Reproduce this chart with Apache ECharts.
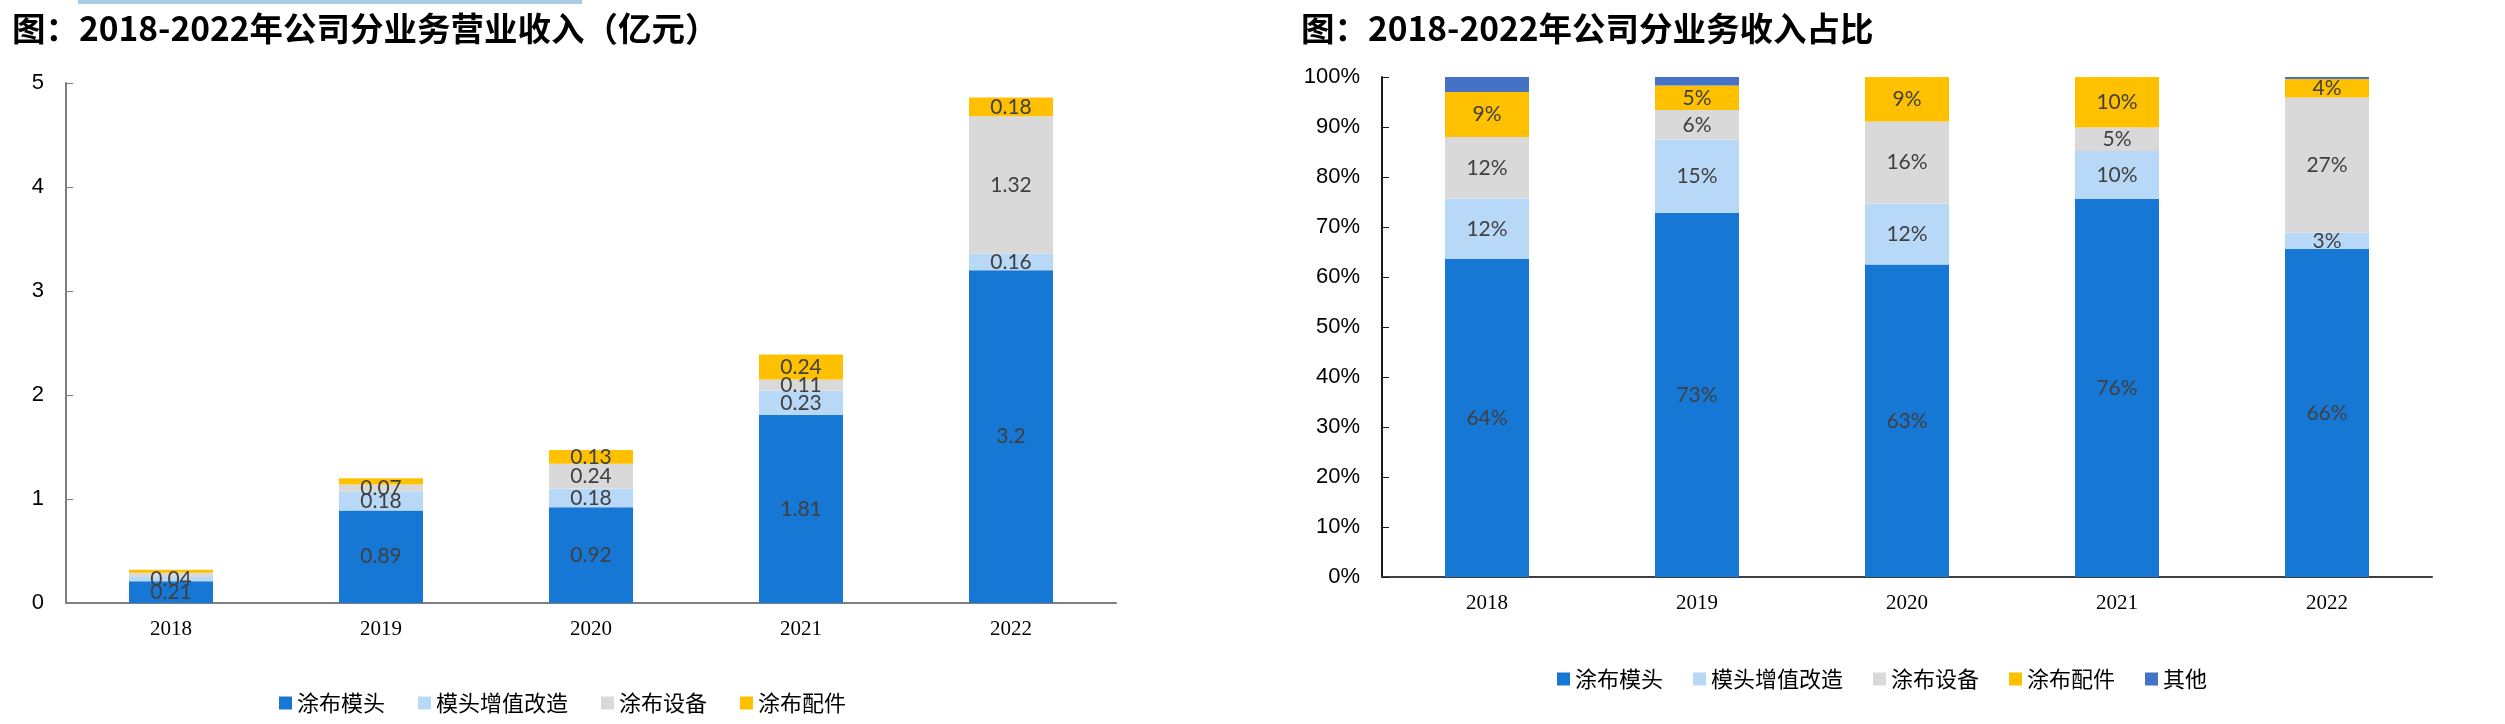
<!DOCTYPE html>
<html><head><meta charset="utf-8">
<script src="https://cdn.jsdelivr.net/npm/echarts@6/dist/echarts.min.js"></script>
<style>html,body{margin:0;padding:0;background:#fff}#c{width:2505px;height:724px}</style>
</head><body><div id="c"></div>
<script>
// ---------- data ----------
const years = ['2018', '2019', '2020', '2021', '2022'];
const names = ['涂布模头', '模头增值改造', '涂布设备', '涂布配件', '其他'];
// 分业务营业收入（亿元）
const revDie = [0.21, 0.89, 0.92, 1.81, 3.2];
const revUpgrade = [0.04, 0.18, 0.18, 0.23, 0.16];
const revEquip = [0.04, 0.07, 0.24, 0.11, 1.32];
const revParts = [0.03, 0.06, 0.13, 0.24, 0.18];
// 分业务收入占比（%）
const shareDie = [63.6, 72.8, 62.5, 75.6, 65.6];
const shareUpgrade = [12.1, 14.7, 12.2, 9.6, 3.3];
const shareEquip = [12.3, 5.9, 16.4, 4.7, 27.0];
const shareParts = [9.0, 4.9, 8.9, 10.1, 3.7];
const shareOther = [3.0, 1.7, 0, 0, 0.4];
// axis ticks
const revAxis = {min: 0, max: 5, step: 1};
const shareAxis = {min: 0, max: 100, step: 10};
// labels not shown in the reference (series name -> year index)
const revHidden = {'涂布设备': [0], '涂布配件': [0, 1]};

const colors = {'涂布模头': '#1677D4', '模头增值改造': '#B8D8F7', '涂布设备': '#D9D9D9', '涂布配件': '#FFC000', '其他': '#4472C4'};

const chart = echarts.init(document.getElementById('c'), null, {renderer: 'canvas'});

const labelFont = {fontFamily: 'Lato, "Liberation Sans", sans-serif', fontSize: 21, color: '#404040'};

function revSeries(name, vals) {
  const hid = revHidden[name] || [];
  return {
    name, type: 'bar', stack: 'rev', xAxisIndex: 0, yAxisIndex: 0, barWidth: '40%',
    itemStyle: {color: colors[name]},
    label: Object.assign({show: true, position: 'inside', formatter: p => String(p.value)}, labelFont),
    data: vals.map((v, i) => hid.includes(i) ? {value: v, label: {show: false}} : v)
  };
}
function shareSeries(name, vals, showLabel) {
  return {
    name, type: 'bar', stack: 'share', xAxisIndex: 1, yAxisIndex: 1, barWidth: '40%',
    itemStyle: {color: colors[name]},
    label: Object.assign({show: showLabel, position: 'inside', formatter: p => p.value > 0 ? Math.round(p.value) + '%' : ''}, labelFont),
    data: vals
  };
}

const xLabel = {fontFamily: '"Liberation Serif", "Times New Roman", serif', fontSize: 21, color: '#000', margin: 16};
const yLabel = {fontFamily: '"Liberation Sans", Arial, sans-serif', fontSize: 22, color: '#000', margin: 22};
const titleFont = {fontFamily: '"Noto Sans CJK SC", sans-serif', fontSize: 33.5, fontWeight: 'bold', color: '#000'};

const option = {
  backgroundColor: '#fff',
  animation: false,
  graphic: [
    {type: 'rect', shape: {x: 78, y: 0, width: 504, height: 4}, style: {fill: '#A9CBE6'}}
  ],
  title: [
    {text: '图：2018-2022年公司分业务营业收入（亿元）', left: 12, top: 12, padding: 0, textStyle: titleFont},
    {text: '图：2018-2022年公司分业务收入占比', left: 1301, top: 12, padding: 0, textStyle: titleFont}
  ],
  legend: [
    {data: names.slice(0, 4), left: 279, top: 692, icon: 'rect', itemWidth: 13, itemHeight: 13, itemGap: 33, padding: 0,
     textStyle: {fontFamily: '"Noto Sans CJK SC", sans-serif', fontSize: 22, color: '#000'}},
    {data: names, left: 1557, top: 668, icon: 'rect', itemWidth: 13, itemHeight: 13, itemGap: 30, padding: 0,
     textStyle: {fontFamily: '"Noto Sans CJK SC", sans-serif', fontSize: 22, color: '#000'}}
  ],
  grid: [
    {left: 66, top: 83, width: 1050, height: 520},
    {left: 1382, top: 77, width: 1050, height: 500}
  ],
  xAxis: [
    {type: 'category', gridIndex: 0, data: years,
     axisLine: {lineStyle: {color: '#7F7F7F', width: 2}},
     axisTick: {inside: true, length: 8, interval: 0, lineStyle: {color: '#000', width: 1}},
     axisLabel: xLabel},
    {type: 'category', gridIndex: 1, data: years,
     axisLine: {lineStyle: {color: '#404040', width: 2}},
     axisTick: {inside: true, length: 8, interval: 0, lineStyle: {color: '#404040', width: 1}},
     axisLabel: xLabel}
  ],
  yAxis: [
    {type: 'value', gridIndex: 0, min: revAxis.min, max: revAxis.max, interval: revAxis.step,
     splitLine: {show: false},
     axisLine: {show: true, lineStyle: {color: '#7F7F7F', width: 2}},
     axisTick: {show: true, inside: true, length: 7, lineStyle: {color: '#7F7F7F'}},
     axisLabel: yLabel},
    {type: 'value', gridIndex: 1, min: shareAxis.min, max: shareAxis.max, interval: shareAxis.step,
     splitLine: {show: false},
     axisLine: {show: true, lineStyle: {color: '#1A1A1A', width: 2}},
     axisTick: {show: true, inside: true, length: 7, lineStyle: {color: '#1A1A1A'}},
     axisLabel: Object.assign({formatter: '{value}%'}, yLabel)}
  ],
  series: [
    revSeries('涂布模头', revDie),
    revSeries('模头增值改造', revUpgrade),
    revSeries('涂布设备', revEquip),
    revSeries('涂布配件', revParts),
    shareSeries('涂布模头', shareDie, true),
    shareSeries('模头增值改造', shareUpgrade, true),
    shareSeries('涂布设备', shareEquip, true),
    shareSeries('涂布配件', shareParts, true),
    shareSeries('其他', shareOther, false)
  ]
};
chart.setOption(option);
</script>
</body></html>
